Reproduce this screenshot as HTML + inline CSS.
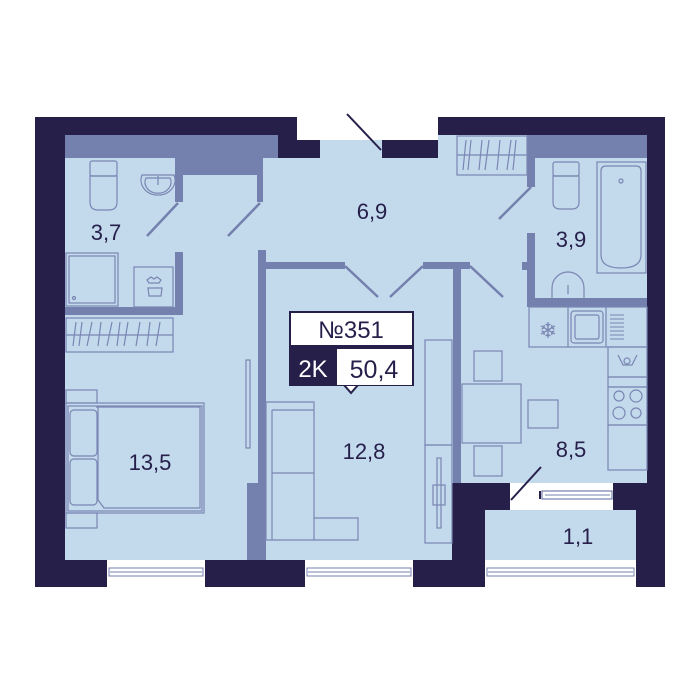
<!DOCTYPE html>
<html><head><style>html,body{margin:0;padding:0;background:#fff}svg{display:block}</style></head><body>
<svg width="700" height="700" viewBox="0 0 700 700" xmlns="http://www.w3.org/2000/svg" font-family="Liberation Sans, sans-serif">
<rect width="700" height="700" fill="#fff"/>
<rect x="35" y="117" width="630" height="470" fill="#251f4a"/>
<rect x="297" y="110" width="141" height="30" fill="#fff"/>
<rect x="65" y="135" width="213" height="425" fill="#c3d9ec"/>
<rect x="278" y="158" width="174" height="402" fill="#c3d9ec"/>
<rect x="320" y="140" width="62" height="18" fill="#c3d9ec"/>
<rect x="438" y="135" width="209" height="348" fill="#c3d9ec"/>
<rect x="382" y="158" width="60" height="10" fill="#c3d9ec"/>
<rect x="485" y="510" width="151" height="50" fill="#c3d9ec"/>
<rect x="510" y="483" width="103" height="27" fill="#fff"/>
<rect x="542" y="491" width="70" height="8" fill="none" stroke="#7480ad" stroke-width="1.2"/>
<line x1="545" y1="495" x2="610" y2="495" stroke="#7480ad"/>
<line x1="540" y1="491" x2="540" y2="499" stroke="#251f4a" stroke-width="2"/>
<line x1="541" y1="467" x2="511" y2="500" stroke="#251f4a" stroke-width="2"/>
<g fill="#fff" stroke="#7480ad" stroke-width="1">
<rect x="107" y="560" width="98" height="27" stroke="none"/>
<rect x="305" y="560" width="108" height="27" stroke="none"/>
<rect x="485" y="560" width="151" height="27" stroke="none"/>
<rect x="109" y="568" width="94" height="8" fill="none"/>
<rect x="307" y="568" width="104" height="8" fill="none"/>
<rect x="487" y="568" width="147" height="8" fill="none"/>
<line x1="110" y1="572" x2="202" y2="572"/>
<line x1="308" y1="572" x2="410" y2="572"/>
<line x1="488" y1="572" x2="633" y2="572"/>
</g>
<line x1="347" y1="114" x2="381" y2="150" stroke="#251f4a" stroke-width="2"/>
<g fill="#7480ad">
<rect x="65" y="135" width="213" height="23"/>
<rect x="183" y="158" width="74" height="17"/>
<rect x="175" y="158" width="8" height="44"/>
<rect x="257" y="158" width="6" height="44"/>
<rect x="175" y="252" width="8" height="63"/>
<rect x="65" y="307" width="118" height="8"/>
<rect x="258" y="250" width="8" height="310"/>
<rect x="247" y="483" width="18" height="77"/>
<rect x="263" y="262" width="82" height="7"/>
<rect x="423" y="262" width="47" height="7"/>
<rect x="453" y="262" width="8" height="221"/>
<rect x="527" y="135" width="120" height="23"/>
<rect x="527" y="135" width="8" height="52"/>
<rect x="527" y="233" width="8" height="74"/>
<rect x="522" y="262" width="6" height="8"/>
<rect x="527" y="298" width="120" height="9"/>
</g>
<rect x="452" y="483" width="33" height="77" fill="#251f4a"/>
<rect x="452" y="483" width="58" height="27" fill="#251f4a"/>
<rect x="613" y="483" width="52" height="27" fill="#251f4a"/>
<rect x="141" y="158" width="34" height="17" fill="#c3d9ec"/>
<g stroke="#7480ad" stroke-width="2.5">
<line x1="178" y1="203" x2="147" y2="236"/>
<line x1="260" y1="203" x2="228" y2="236"/>
<line x1="345" y1="266" x2="378" y2="297"/>
<line x1="423" y1="266" x2="390" y2="297"/>
<line x1="470" y1="266" x2="503" y2="297"/>
<line x1="531" y1="187" x2="499" y2="219"/>
</g>
<g fill="none" stroke="#7a86b3" stroke-width="1.2">
<rect x="90" y="161" width="27" height="15" rx="2"/>
<path d="M90 176 h27 v26 q0 8 -8 8 h-11 q-8 0 -8 -8z"/>
<path d="M142 175 a17 15 0 1 0 32 0z"/>
<path d="M146 178 a13 11 0 1 0 24 0z"/>
<line x1="158" y1="176" x2="158" y2="185"/>
<rect x="66" y="253" width="52" height="53"/>
<rect x="69" y="256" width="46" height="47"/>
<circle cx="74" cy="298" r="1.5"/>
<rect x="134" y="267" width="39" height="40"/>
<path d="M147 280 l4 -3 l3 2 l3 -2 l4 3 l-2 3 h-10z M148 288 h14 l-1 8 h-12z"/>
<rect x="66" y="318" width="107" height="34"/>
<line x1="66" y1="335" x2="173" y2="335"/>
<rect x="457" y="136" width="70" height="39"/>
<line x1="457" y1="155" x2="527" y2="155"/>
<rect x="553" y="162" width="26" height="14" rx="2"/>
<path d="M553 176 h26 v26 q0 7 -7 7 h-12 q-7 0 -7 -7z"/>
<rect x="597" y="162" width="49" height="111"/>
<path d="M601 171 q0 -5 5 -5 h30 q5 0 5 5 v84 q0 13 -20 13 q-20 0 -20 -13z"/>
<circle cx="621" cy="181" r="2"/>
<path d="M552 298 v-10 a16 16 0 0 1 32 0 v10"/>
<line x1="568" y1="285" x2="568" y2="294"/>
<rect x="529" y="307" width="118" height="40"/>
<line x1="568" y1="307" x2="568" y2="347"/>
<line x1="606" y1="307" x2="606" y2="347"/>
<rect x="571" y="311" width="32" height="32" rx="3"/>
<rect x="575" y="315" width="24" height="24" rx="2"/>
<rect x="608" y="347" width="39" height="30"/>
<rect x="608" y="377" width="39" height="10"/>
<rect x="608" y="387" width="39" height="38"/>
<rect x="608" y="425" width="39" height="45"/>
<circle cx="619" cy="396" r="5"/><circle cx="636" cy="396" r="6"/>
<circle cx="619" cy="413" r="6"/><circle cx="636" cy="413" r="5"/>
<path d="M618 355 l5 10 h9 l5 -10" />
<circle cx="627" cy="361" r="3"/>
<rect x="474" y="351" width="28" height="30"/>
<rect x="462" y="384" width="59" height="59"/>
<rect x="528" y="400" width="30" height="28"/>
<rect x="474" y="446" width="28" height="30"/>
<rect x="425" y="340" width="27" height="105"/>
<rect x="425" y="445" width="27" height="98"/>
<rect x="437" y="458" width="4" height="70"/>
<rect x="433" y="485" width="12" height="20"/>
<rect x="246" y="360" width="4" height="88"/>
<path d="M266 402 h48 v116 h44 v22 h-92z"/>
<line x1="272" y1="410" x2="272" y2="540"/>
<line x1="272" y1="410" x2="314" y2="410"/>
<line x1="272" y1="473" x2="314" y2="473"/>
<line x1="314" y1="518" x2="314" y2="540"/>
<rect x="66" y="390" width="31" height="13"/>
<rect x="66" y="513" width="31" height="15"/>
<rect x="66" y="403" width="138" height="110"/>
<rect x="68" y="406" width="134" height="105"/>
<rect x="70" y="410" width="27" height="46" rx="4"/>
<rect x="70" y="459" width="27" height="46" rx="4"/>
<path d="M96 407 h104 v101 h-96 l-6 -8 v-93z"/>
</g>
<g stroke="#7a86b3" stroke-width="1.2" fill="none">
<path d="M76 322 l-3 24 M82 322 l-3 24 M92 322 l-5 24 M101 322 l-3 24 M112 322 l-5 24 M120 322 l-3 24 M128 322 l-4 24 M140 322 l-4 24 M150 322 l-3 24 M160 322 l-4 24"/>
<path d="M466 140 l-3 30 M471 140 l-3 30 M482 140 l-3 30 M489 140 l-4 30 M500 140 l-3 30 M511 140 l-4 30 M516 140 l-3 30"/>
</g>
<text x="548" y="338" font-size="22" fill="#7a86b3" text-anchor="middle">❄</text>
<g stroke="#7a86b3" stroke-width="1"><line x1="610" y1="315" x2="624" y2="315"/><line x1="610" y1="319" x2="624" y2="319"/><line x1="610" y1="323" x2="624" y2="323"/><line x1="610" y1="327" x2="624" y2="327"/><line x1="610" y1="331" x2="624" y2="331"/><line x1="610" y1="335" x2="624" y2="335"/><line x1="610" y1="339" x2="624" y2="339"/></g>
<g font-size="22" fill="#251f4a" text-anchor="middle">
<text x="106" y="240">3,7</text>
<text x="372" y="219">6,9</text>
<text x="571" y="247">3,9</text>
<text x="150" y="470">13,5</text>
<text x="364" y="459">12,8</text>
<text x="571" y="457">8,5</text>
<text x="578" y="544">1,1</text>
</g>
<rect x="290" y="312" width="123" height="34" fill="#fff" stroke="#251f4a" stroke-width="2"/>
<text x="351" y="338" font-size="24" fill="#251f4a" text-anchor="middle">№351</text>
<rect x="289" y="346" width="125" height="40" fill="#251f4a"/>
<rect x="337" y="349" width="75" height="36" fill="#fff"/>
<path d="M344 385 l7 8 l7 -8z" fill="#fff" stroke="#251f4a" stroke-width="2"/>
<rect x="340" y="383" width="22" height="2" fill="#fff"/>
<text x="313" y="377" font-size="24" fill="#fff" text-anchor="middle">2K</text>
<text x="374" y="378" font-size="25" fill="#251f4a" text-anchor="middle">50,4</text>
</svg>
</body></html>
